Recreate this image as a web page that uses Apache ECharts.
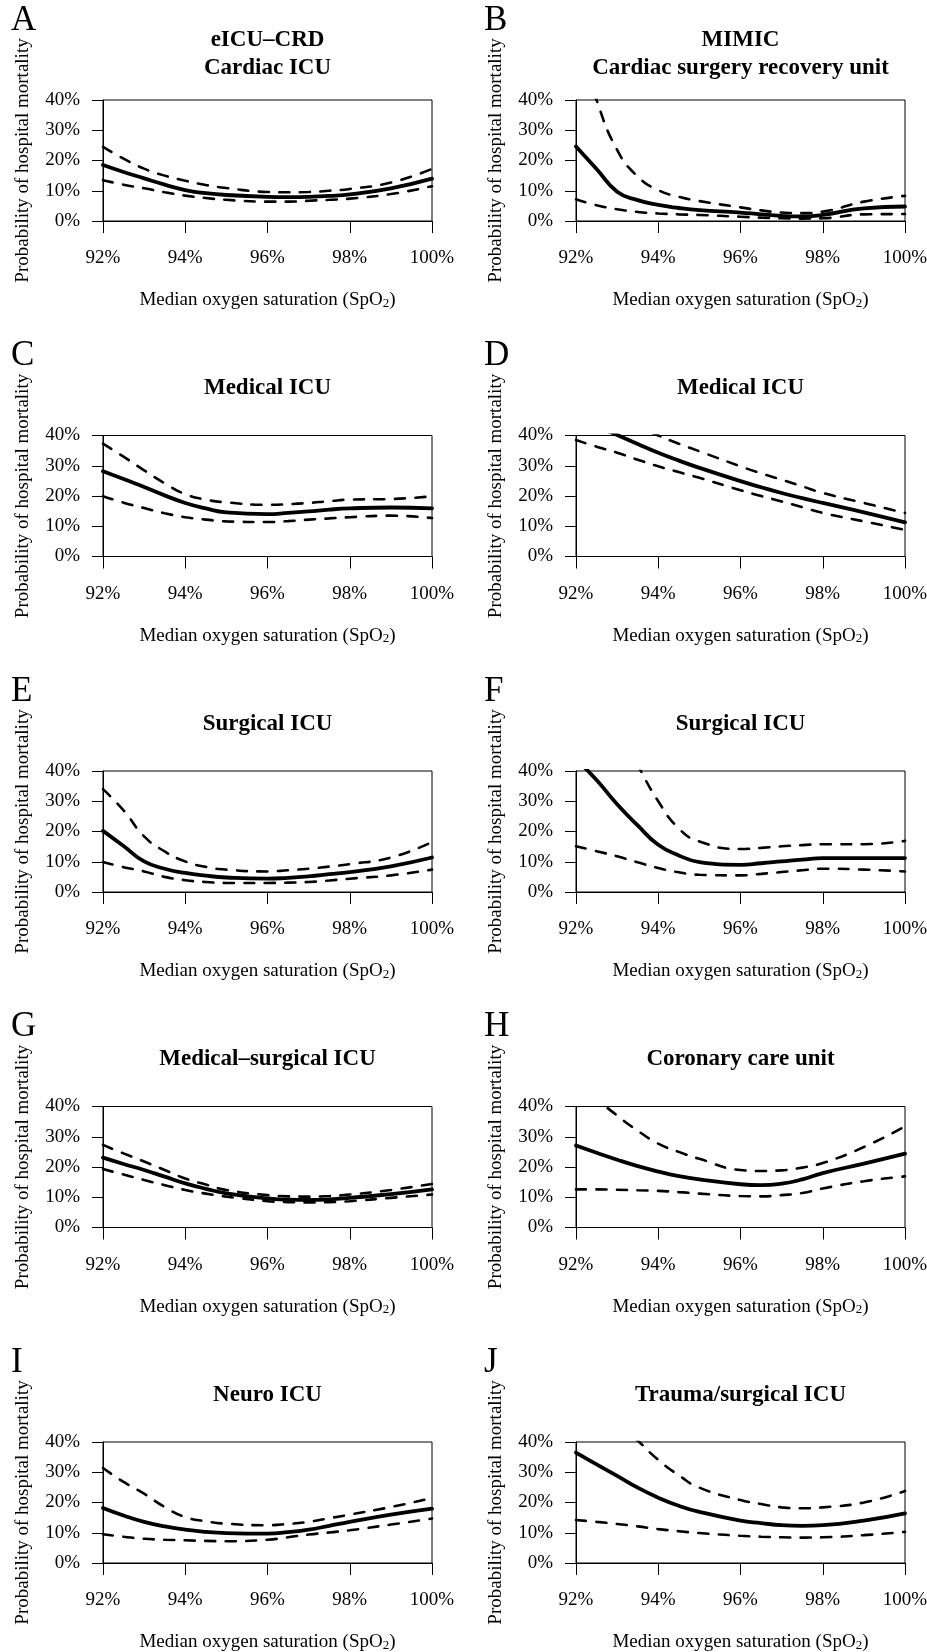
<!DOCTYPE html>
<html>
<head>
<meta charset="utf-8">
<script src="https://cdn.jsdelivr.net/npm/echarts@6/dist/echarts.min.js"></script>
<style>
  html, body { margin: 0; padding: 0; background: #ffffff; }
  #chart { width: 927px; height: 1652px; }
</style>
</head>
<body>
<div id="chart"></div>
<script>
// Oxygen saturation (%) at which each curve is evaluated
const SPO2 = [92, 92.5, 93, 93.5, 94, 94.5, 95, 96, 96.5, 97, 97.5, 98, 99, 100];
const X_TICKS = [92, 94, 96, 98, 100];
const Y_TICKS = [0, 10, 20, 30, 40];

const LETTERS = ['A', 'B', 'C', 'D', 'E', 'F', 'G', 'H', 'I', 'J'];
const TITLES = [
  ['eICU\u2013CRD', 'Cardiac ICU'],
  ['MIMIC', 'Cardiac surgery recovery unit'],
  ['Medical ICU'],
  ['Medical ICU'],
  ['Surgical ICU'],
  ['Surgical ICU'],
  ['Medical\u2013surgical ICU'],
  ['Coronary care unit'],
  ['Neuro ICU'],
  ['Trauma/surgical ICU']
];
const X_NAME = 'Median oxygen saturation (SpO{sub|2})';
const Y_NAME = 'Probability of hospital mortality';

// Predicted hospital mortality (%): fit, lower and upper 95% limits
const fitA = [18.5, 16.2, 14.1, 12.0, 10.2, 9.2, 8.6, 8.0, 7.9, 8.0, 8.3, 8.8, 10.8, 14.0];
const lowA = [13.5, 12.0, 10.8, 9.5, 8.4, 7.6, 7.0, 6.4, 6.4, 6.7, 7.0, 7.4, 8.9, 11.5];
const upA  = [24.5, 20.6, 17.3, 15.0, 13.3, 11.9, 10.9, 9.6, 9.5, 9.6, 10.0, 10.6, 12.7, 17.2];

const fitB = [24.6, 17.2, 9.7, 6.9, 5.3, 4.3, 3.6, 2.8, 2.2, 1.7, 1.5, 2.0, 4.2, 4.8];
const lowB = [7.2, 5.2, 3.9, 3.0, 2.5, 2.2, 2.0, 1.4, 1.1, 0.9, 0.8, 0.9, 2.2, 2.3];
const upB  = [62, 40, 23.5, 14.7, 10.2, 8.0, 6.6, 4.5, 3.5, 2.8, 2.6, 3.1, 6.4, 8.3];

const fitC = [28.2, 25.6, 23.0, 20.2, 17.7, 15.9, 14.6, 14.0, 14.4, 14.9, 15.5, 15.9, 16.2, 15.9];
const lowC = [19.9, 17.8, 16.0, 14.3, 13.0, 12.2, 11.6, 11.4, 11.7, 12.2, 12.6, 13.0, 13.5, 12.7];
const upC  = [37.3, 33.0, 28.5, 24.2, 20.6, 18.8, 17.9, 17.1, 17.3, 17.7, 18.3, 18.8, 19.0, 19.9];

const fitD = [46, 43, 40.2, 37.2, 34.3, 31.7, 29.3, 24.9, 22.9, 21.0, 19.3, 17.7, 14.6, 11.3];
const lowD = [38.5, 36.3, 34.3, 32.0, 29.8, 27.9, 26.0, 21.9, 20.0, 18.2, 16.3, 14.4, 11.6, 8.8];
const upD  = [52, 49, 46, 43, 40, 37.3, 34.8, 29.8, 27.5, 25.4, 23.2, 21.0, 17.7, 14.4];

const fitE = [20.2, 15.2, 10.1, 7.7, 6.3, 5.4, 4.8, 4.4, 4.7, 5.2, 5.9, 6.6, 8.5, 11.4];
const lowE = [9.9, 8.2, 6.8, 5.0, 3.9, 3.3, 3.0, 3.0, 3.1, 3.3, 3.8, 4.4, 5.5, 7.4];
const upE  = [34, 27, 18.4, 13.4, 10.1, 8.3, 7.4, 6.8, 7.2, 7.7, 8.4, 9.2, 11.4, 16.5];

const fitF = [44, 37, 29, 22, 15.6, 12.1, 9.9, 9.0, 9.5, 10.1, 10.7, 11.2, 11.2, 11.2];
const lowF = [15.1, 13.5, 11.8, 9.8, 7.9, 6.5, 5.7, 5.5, 6.0, 6.6, 7.2, 7.7, 7.4, 6.8];
const upF  = [78, 66, 55, 42, 30, 21, 16.7, 14.2, 14.6, 15.1, 15.5, 15.8, 15.8, 16.9];

const fitG = [23.1, 21.0, 19.0, 16.8, 14.6, 12.8, 11.3, 9.6, 9.2, 9.1, 9.3, 9.8, 11.0, 12.6];
const lowG = [19.3, 17.5, 15.7, 14.0, 12.4, 11.2, 10.2, 8.7, 8.4, 8.3, 8.4, 8.7, 9.8, 10.9];
const upG  = [27.3, 24.5, 21.8, 19.0, 16.2, 14.2, 12.4, 10.7, 10.3, 10.2, 10.4, 10.9, 12.4, 14.4];

const fitH = [27.1, 24.7, 22.4, 20.3, 18.5, 17.0, 15.9, 14.3, 14.0, 14.5, 15.9, 18.0, 21.1, 24.4];
const lowH = [12.6, 12.6, 12.5, 12.3, 12.1, 11.7, 11.2, 10.4, 10.3, 10.7, 11.4, 12.9, 15.3, 16.9];
const upH  = [48, 42.5, 37.0, 32.0, 27.7, 25.0, 22.7, 19.0, 18.7, 18.9, 19.8, 21.3, 26.6, 33.4];

const fitI = [18.2, 15.7, 13.6, 12.1, 11.0, 10.3, 9.9, 9.7, 10.2, 11.0, 12.3, 13.6, 16.0, 18.0];
const lowI = [9.5, 8.7, 8.0, 7.7, 7.5, 7.3, 7.2, 7.7, 8.5, 9.4, 10.1, 10.8, 12.7, 14.7];
const upI  = [31.4, 26.8, 22.9, 18.5, 15.2, 13.8, 13.0, 12.5, 12.9, 13.6, 14.8, 16.0, 18.5, 21.5];

const fitJ = [36.5, 32.6, 28.8, 24.9, 21.6, 18.9, 16.9, 14.0, 13.2, 12.5, 12.3, 12.5, 14.0, 16.4];
const lowJ = [14.2, 13.6, 12.9, 12.1, 11.2, 10.5, 9.9, 9.0, 8.7, 8.5, 8.4, 8.5, 9.2, 10.3];
const upJ  = [60, 53, 47, 40.5, 34.1, 29.0, 24.9, 20.8, 19.5, 18.4, 18.1, 18.4, 20.0, 23.8];

const FITS  = [fitA, fitB, fitC, fitD, fitE, fitF, fitG, fitH, fitI, fitJ];
const LOWS  = [lowA, lowB, lowC, lowD, lowE, lowF, lowG, lowH, lowI, lowJ];
const UPS   = [upA, upB, upC, upD, upE, upF, upG, upH, upI, upJ];

// ---- layout ----
const SERIF = '"Liberation Serif", "Times New Roman", Times, serif';
const COL_LEFT = [103, 576];
const PLOT_W = 329;
const PLOT_H = 121;
const ROW_TOP0 = 100;
const ROW_STEP = 335.5;

const grids = [], xAxes = [], yAxes = [], series = [], graphics = [];

const pairs = (ys) => SPO2.map((x, k) => [x, ys[k]]);

for (let i = 0; i < 10; i++) {
  const col = i % 2, row = Math.floor(i / 2);
  const left = COL_LEFT[col];
  const top = ROW_TOP0 + row * ROW_STEP;
  const cx = left + PLOT_W / 2;

  grids.push({
    left: left, top: top, width: PLOT_W, height: PLOT_H,
    show: true, borderColor: '#000', borderWidth: 1, backgroundColor: 'transparent',
    containLabel: false, outerBoundsMode: 'none'
  });

  xAxes.push({
    gridIndex: i, type: 'value',
    min: X_TICKS[0], max: X_TICKS[X_TICKS.length - 1], interval: X_TICKS[1] - X_TICKS[0],
    axisLine: { show: true, onZero: false, lineStyle: { color: '#000', width: 1 } },
    axisTick: { show: true, inside: false, length: 12, lineStyle: { color: '#000', width: 1 } },
    axisLabel: { formatter: '{value}%', margin: 28, color: '#000', fontSize: 19, fontFamily: SERIF },
    splitLine: { show: false },
    name: X_NAME, nameLocation: 'middle', nameGap: 70, nameMoveOverlap: false,
    nameTextStyle: {
      color: '#000', fontSize: 19, fontFamily: SERIF,
      rich: { sub: { fontSize: 13, fontFamily: SERIF, color: '#000', verticalAlign: 'bottom', lineHeight: 8 } }
    }
  });

  yAxes.push({
    gridIndex: i, type: 'value',
    min: Y_TICKS[0], max: Y_TICKS[Y_TICKS.length - 1], interval: Y_TICKS[1] - Y_TICKS[0],
    axisLine: { show: true, onZero: false, lineStyle: { color: '#000', width: 1 } },
    axisTick: { show: true, inside: false, length: 11, lineStyle: { color: '#000', width: 1 } },
    axisLabel: { formatter: '{value}%', margin: 23, color: '#000', fontSize: 19, fontFamily: SERIF },
    splitLine: { show: false },
    name: Y_NAME, nameLocation: 'middle', nameGap: 70, nameMoveOverlap: false,
    nameTextStyle: { color: '#000', fontSize: 19, fontFamily: SERIF }
  });

  const common = { xAxisIndex: i, yAxisIndex: i, type: 'line', showSymbol: false, symbol: 'none',
    smooth: 0.5, clip: true, silent: true };
  series.push(Object.assign({}, common, {
    data: pairs(LOWS[i]),
    lineStyle: { color: '#000', width: 2.6, type: [10, 10.5], cap: 'round' }
  }));
  series.push(Object.assign({}, common, {
    data: pairs(UPS[i]),
    lineStyle: { color: '#000', width: 2.6, type: [10, 10.5], cap: 'round' }
  }));
  series.push(Object.assign({}, common, {
    data: pairs(FITS[i]),
    lineStyle: { color: '#000', width: 3.8, type: 'solid', cap: 'round', join: 'round' }
  }));

  // panel letter
  graphics.push({
    type: 'text', x: col === 0 ? 11 : 484, y: top - 79.5,
    style: { text: LETTERS[i], font: '35px ' + SERIF, fill: '#000', align: 'left', verticalAlign: 'middle' }
  });
  // panel title (one or two lines)
  const lines = TITLES[i];
  if (lines.length === 2) {
    graphics.push({ type: 'text', x: cx, y: top - 59.5,
      style: { text: lines[0], font: 'bold 23px ' + SERIF, fill: '#000', align: 'center', verticalAlign: 'middle' } });
    graphics.push({ type: 'text', x: cx, y: top - 32,
      style: { text: lines[1], font: 'bold 23px ' + SERIF, fill: '#000', align: 'center', verticalAlign: 'middle' } });
  } else {
    graphics.push({ type: 'text', x: cx, y: top - 47,
      style: { text: lines[0], font: 'bold 23px ' + SERIF, fill: '#000', align: 'center', verticalAlign: 'middle' } });
  }
}

const chart = echarts.init(document.getElementById('chart'), null, { renderer: 'canvas' });
chart.setOption({
  animation: false,
  backgroundColor: '#ffffff',
  grid: grids,
  xAxis: xAxes,
  yAxis: yAxes,
  series: series,
  graphic: graphics
});
</script>
</body>
</html>
